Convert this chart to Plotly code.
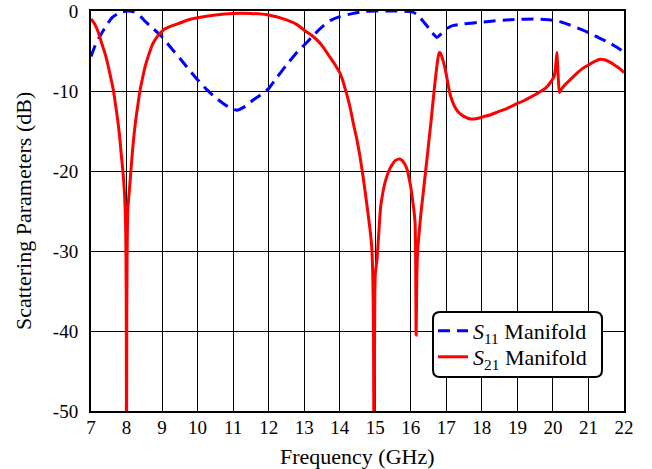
import plotly.graph_objects as go

# Frequency sweep (GHz) and magnitudes (dB) for the two scattering parameters
s11_freq = [7.0, 7.1, 7.22, 7.35, 7.48, 7.6, 7.75, 7.9, 8.05, 8.2, 8.35, 8.55, 8.75, 8.99,
            9.25, 9.5, 9.75, 10.0, 10.25, 10.53, 10.8, 11.1, 11.35, 11.57, 11.8, 12.0,
            12.25, 12.5, 12.75, 13.0, 13.25, 13.45, 13.73, 14.0, 14.38, 14.7, 15.0, 15.5,
            16.03, 16.2, 16.35, 16.5, 16.6, 16.73, 16.82, 16.92, 17.05, 17.2, 17.5, 17.86,
            18.2, 18.6, 19.0, 19.45, 19.75, 20.0, 20.25, 20.48, 20.7, 20.95, 21.2, 21.51,
            21.75, 22.0]
s11_db = [-5.7, -4.5, -3.4, -2.4, -1.5, -0.8, -0.35, -0.1, 0.0, -0.1, -0.5, -1.4, -2.2, -3.2,
          -4.6, -5.9, -7.3, -8.6, -9.8, -10.9, -11.8, -12.4, -11.9, -11.1, -10.4, -9.7,
          -8.2, -6.75, -5.4, -4.25, -3.1, -2.2, -1.2, -0.7, -0.3, -0.05, 0.0, 0.0,
          -0.1, -0.5, -1.3, -2.1, -2.7, -3.3, -3.0, -2.5, -2.1, -1.8, -1.6, -1.45,
          -1.3, -1.15, -1.05, -1.0, -1.05, -1.15, -1.4, -1.75, -2.15, -2.6, -3.15, -3.8,
          -4.4, -5.1]

s21_freq = [7.0, 7.1, 7.2, 7.3, 7.4, 7.49, 7.56, 7.63, 7.69, 7.75, 7.8, 7.84, 7.88, 7.91,
            7.94, 7.96, 7.975, 7.985, 7.993, 8.0, 8.007, 8.015, 8.025, 8.04, 8.08, 8.11,
            8.14, 8.17, 8.21, 8.26, 8.32, 8.38, 8.45, 8.52, 8.63, 8.75, 8.88, 9.03, 9.25,
            9.5, 9.75, 10.0, 10.5, 11.0, 11.5, 12.0, 12.5, 12.8, 13.0, 13.2, 13.4, 13.55,
            13.7, 13.85, 14.01, 14.1, 14.19, 14.29, 14.38, 14.48, 14.57, 14.64, 14.71,
            14.77, 14.83, 14.87, 14.9, 14.93, 14.95, 14.965, 14.98, 15.0, 15.05, 15.09,
            15.12, 15.15, 15.21, 15.27, 15.34, 15.41, 15.49, 15.56, 15.68, 15.76, 15.84,
            15.91, 15.96, 16.01, 16.05, 16.09, 16.12, 16.135, 16.15, 16.17, 16.2, 16.23,
            16.28, 16.33, 16.38, 16.43, 16.48, 16.52, 16.57, 16.61, 16.66, 16.71, 16.76,
            16.8, 16.84, 16.88, 16.92, 16.97, 17.01, 17.05, 17.1, 17.17, 17.24, 17.33,
            17.43, 17.55, 17.67, 17.78, 17.9, 18.05, 18.23, 18.45, 18.7, 18.93, 19.16,
            19.4, 19.64, 19.8, 19.92, 20.03, 20.07, 20.11, 20.14, 20.18, 20.22, 20.3,
            20.39, 20.53, 20.67, 20.83, 21.0, 21.15, 21.3, 21.45, 21.6, 21.75, 21.88, 22.0]
s21_db = [-1.0, -1.6, -2.6, -4.0, -5.4, -7.0, -8.4, -9.9, -11.7, -13.6, -15.4, -17.4, -19.2,
          -20.7, -22.6, -24.5, -27.0, -31.0, -38.0, -60.0, -38.0, -31.0, -27.0, -24.5,
          -22.4, -20.7, -19.0, -17.4, -15.5, -13.6, -11.7, -9.9, -8.4, -7.0, -5.4, -4.0,
          -3.1, -2.4, -1.9, -1.5, -1.1, -0.85, -0.5, -0.3, -0.3, -0.5, -1.1, -1.7, -2.4,
          -3.0, -3.8, -4.6, -5.6, -6.6, -7.8, -8.9, -10.3, -12.0, -14.0, -16.0, -18.2,
          -20.2, -22.4, -24.4, -26.5, -28.0, -29.5, -33.0, -40.0, -60.0, -40.0, -33.0,
          -31.0, -28.4, -26.3, -24.5, -22.8, -21.5, -20.5, -19.7, -19.1, -18.7, -18.5,
          -18.7, -19.2, -20.0, -21.1, -22.3, -23.6, -25.0, -26.5, -30.0, -40.5, -33.0,
          -29.5, -28.0, -25.5, -23.5, -21.5, -19.5, -17.5, -15.8, -13.8, -12.0, -9.8,
          -7.8, -6.0, -5.2, -5.3, -5.8, -6.4, -7.3, -8.2, -9.2, -10.3, -11.3, -12.0,
          -12.6, -13.0, -13.3, -13.5, -13.5, -13.4, -13.2, -13.0, -12.6, -12.2, -11.7,
          -11.25, -10.7, -10.1, -9.6, -9.0, -8.2, -7.2, -5.2, -7.5, -10.2, -9.9, -9.4,
          -9.0, -8.4, -7.8, -7.2, -6.75, -6.35, -6.05, -6.1, -6.4, -6.8, -7.2, -7.7]

series_names = ["<i>S</i><sub>11</sub> Manifold", "<i>S</i><sub>21</sub> Manifold"]
x_title = "Frequency (GHz)"
y_title = "Scattering Parameters (dB)"

x_tick_vals = list(range(7, 23))
x_tick_text = [str(v) for v in x_tick_vals]
y_tick_vals = [0, -10, -20, -30, -40, -50]
y_tick_text = ["0", "-10", "-20", "-30", "-40", "-50"]

FONT = "Liberation Serif, Times New Roman, serif"

fig = go.Figure()
fig.add_trace(go.Scatter(
    x=s11_freq, y=s11_db, mode="lines", name=series_names[0], legend="legend",
    line=dict(color="#0000ff", width=3, dash="12px,7px", shape="spline", smoothing=0.5),
))
fig.add_trace(go.Scatter(
    x=s21_freq, y=s21_db, mode="lines", name=series_names[1], legend="legend2",
    line=dict(color="#ff0000", width=3, shape="spline", smoothing=0.5),
))

# plot-area geometry in pixels, used to place the legend frame and axis titles
W, H = 652, 469
ML, MR, MT, MB = 91, 28, 11, 58
pw, ph = W - ML - MR, H - MT - MB


def px_to_paper(px, py):
    return (px - ML) / pw, (H - MB - py) / ph


bx0, by0 = px_to_paper(433, 377)
bx1, by1 = px_to_paper(602, 312)
rx, ry = 7 / pw, 7 / ph
frame = (f"M {bx0 + rx},{by0} L {bx1 - rx},{by0} Q {bx1},{by0} {bx1},{by0 + ry} "
         f"L {bx1},{by1 - ry} Q {bx1},{by1} {bx1 - rx},{by1} "
         f"L {bx0 + rx},{by1} Q {bx0},{by1} {bx0},{by1 - ry} "
         f"L {bx0},{by0 + ry} Q {bx0},{by0} {bx0 + rx},{by0} Z")
fig.add_shape(type="path", path=frame, xref="paper", yref="paper",
              line=dict(color="black", width=2), fillcolor="white", layer="above")

# axis titles
tx, ty = px_to_paper(357.5, 456)
fig.add_annotation(text=x_title, x=tx, y=ty, xref="paper", yref="paper",
                   xanchor="center", yanchor="middle", showarrow=False,
                   font=dict(family=FONT, size=22, color="black"))
tx, ty = px_to_paper(23, 211)
fig.add_annotation(text=y_title, x=tx, y=ty, xref="paper", yref="paper",
                   xanchor="center", yanchor="middle", showarrow=False, textangle=-90,
                   font=dict(family=FONT, size=22, color="black"))

# one legend box per series, stacked inside the rounded frame
legend_style = dict(xanchor="left", yanchor="middle", bgcolor="rgba(0,0,0,0)",
                    borderwidth=0, font=dict(family=FONT, size=22, color="black"))
l1x, l1y = px_to_paper(433, 331)
l2x, l2y = px_to_paper(433, 357)

fig.update_layout(
    width=W, height=H,
    margin=dict(l=ML, r=MR, t=MT, b=MB, pad=0, autoexpand=False),
    paper_bgcolor="white", plot_bgcolor="white",
    font=dict(family=FONT, color="black", size=19),
    showlegend=True,
    legend=dict(x=l1x, y=l1y, **legend_style),
    legend2=dict(x=l2x, y=l2y, **legend_style),
    xaxis=dict(range=[7, 22], tickvals=x_tick_vals, ticktext=x_tick_text,
               showgrid=True, gridcolor="black", gridwidth=1,
               showline=True, linecolor="black", linewidth=2, mirror=True,
               ticks="", ticklen=0, zeroline=False, ticklabelstandoff=-2, automargin=False,
               tickfont=dict(family=FONT, size=19)),
    yaxis=dict(range=[-50, 0], tickvals=y_tick_vals, ticktext=y_tick_text,
               showgrid=True, gridcolor="black", gridwidth=1,
               showline=True, linecolor="black", linewidth=2, mirror=True,
               ticks="", zeroline=False, ticklabelstandoff=7, automargin=False,
               tickfont=dict(family=FONT, size=19)),
)

fig.write_html("out.html")
